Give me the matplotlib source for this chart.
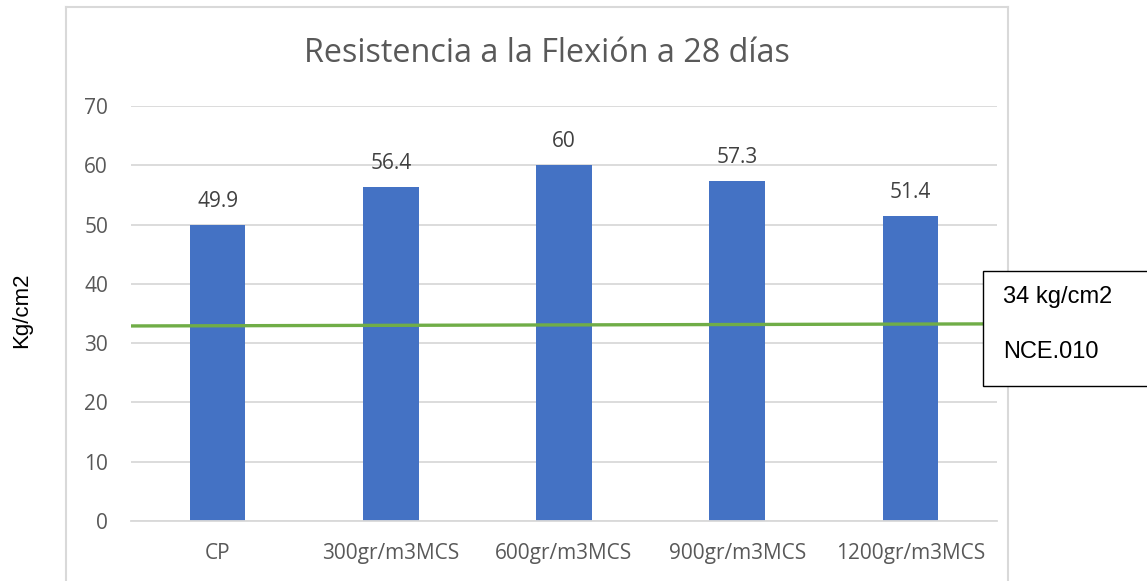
import matplotlib
matplotlib.use("Agg")
import matplotlib.pyplot as plt
from matplotlib.patches import Rectangle
from matplotlib.lines import Line2D

categories = ["CP", "300gr/m3MCS", "600gr/m3MCS", "900gr/m3MCS", "1200gr/m3MCS"]
values = [49.9, 56.4, 60, 57.3, 51.4]
value_labels = ["49.9", "56.4", "60", "57.3", "51.4"]
norm_line = [32.9, 33.25]
norm_text = ["34 kg/cm2", "NCE.010"]
yticks = [0, 10, 20, 30, 40, 50, 60, 70]

W, H = 1147, 581
fig = plt.figure(figsize=(W / 100, H / 100), dpi=100)
fig.patch.set_facecolor("white")

def fx(px):
    return px / W

def fy(py):
    return 1 - py / H

# outer chart frame (left, top, right edges)
frame_col = "#d9d9d9"
for xs, ys in [((66, 66), (7, 590)), ((66, 1008), (7, 7)), ((1008, 1008), (7, 590))]:
    fig.add_artist(Line2D([fx(x) for x in xs], [fy(y) for y in ys],
                          color=frame_col, lw=1.5, transform=fig.transFigure))

ax = fig.add_axes([fx(131), fy(521), fx(997) - fx(131), fy(106) - fy(521)])
x = list(range(len(categories)))
ax.bar(x, values, width=0.32, color="#4472C4", zorder=2)
ax.set_xlim(-0.5, len(categories) - 0.5)
ax.set_ylim(0, 70)
ax.set_yticks(yticks)
ax.yaxis.grid(True, color="#d9d9d9", lw=1.3, zorder=0)
ax.set_axisbelow(True)
for s in ["top", "right", "left"]:
    ax.spines[s].set_visible(False)
ax.spines["bottom"].set_color("#d9d9d9")
ax.spines["bottom"].set_linewidth(1.3)
ax.tick_params(length=0, labelsize=15, labelcolor="#595959")
ax.tick_params(axis="y", pad=16.5)
ax.tick_params(axis="x", pad=16)
ax.set_xticks(x)
ax.set_xticklabels(categories, fontfamily="Open Sans")
for lab in ax.get_yticklabels():
    lab.set_fontfamily("Open Sans")

for xi, v, t in zip(x, values, value_labels):
    ax.annotate(t, (xi, v), xytext=(0, 17), textcoords="offset points",
                ha="center", va="center", fontsize=15, color="#404040",
                fontfamily="Open Sans")

# reference line for the minimum flexural strength
ax.plot([-0.5, len(categories) - 0.5], norm_line, color="#70AD47", lw=2.4,
        zorder=3, solid_capstyle="butt")

fig.text(fx(547), fy(54), "Resistencia a la Flexión a 28 días", ha="center",
         va="center", fontsize=23.3, color="#595959", fontfamily="Open Sans")

fig.text(fx(22), fy(310), "Kg/cm2", rotation=90, ha="center", va="center",
         fontsize=16, color="black", fontfamily="Liberation Sans")

# note box
fig.add_artist(Rectangle((fx(983), fy(386)), fx(1160) - fx(983), fy(271) - fy(386),
                         transform=fig.transFigure, facecolor="white",
                         edgecolor="black", lw=1.0, zorder=10))
fig.text(fx(1003), fy(297), norm_text[0], ha="left", va="center", fontsize=17,
         color="black", fontfamily="Liberation Sans", zorder=11)
fig.text(fx(1003), fy(352), norm_text[1], ha="left", va="center", fontsize=17,
         color="black", fontfamily="Liberation Sans", zorder=11)

fig.savefig("out.png", dpi=100)
